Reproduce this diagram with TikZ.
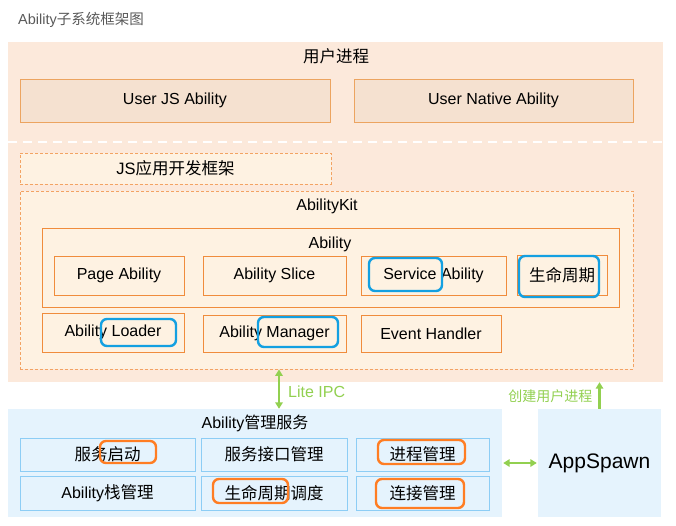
\documentclass[tikz,border=0pt]{standalone}
\usepackage{fontspec}
\setmainfont{Liberation Sans}
\newfontfamily\cjk{Noto Sans CJK SC}
\usetikzlibrary{arrows.meta,positioning}

\definecolor{procFill}{RGB}{252,233,219}
\definecolor{userFill}{RGB}{245,225,208}
\definecolor{userLine}{RGB}{236,164,96}
\definecolor{kitFill}{RGB}{254,242,226}
\definecolor{kitLine}{RGB}{240,140,60}
\definecolor{svcFill}{RGB}{229,243,253}
\definecolor{svcLine}{RGB}{141,205,245}
\definecolor{markBlue}{RGB}{20,160,225}
\definecolor{markOrange}{RGB}{255,125,35}
\definecolor{ipcGreen}{RGB}{146,208,80}
\definecolor{titleGray}{RGB}{90,90,90}

\begin{document}
\begin{tikzpicture}[
        x=1pt, y=-1pt,
        areaBox/.style={
            rectangle,
            inner sep=0pt
        },
        userBox/.style={
            rectangle,
            inner sep=0pt,
            fill=userFill,
            draw=userLine,
            line width=0.9pt,
            font=\fontsize{16}{19}\selectfont
        },
        frameBox/.style={
            rectangle,
            inner sep=0pt,
            fill=kitFill,
            draw=kitLine!80,
            line width=0.8pt,
            dash pattern=on 3pt off 2pt
        },
        kitBox/.style={
            rectangle,
            inner sep=0pt,
            fill=kitFill,
            draw=kitLine,
            line width=0.8pt,
            font=\fontsize{16}{19}\selectfont
        },
        svcBox/.style={
            rectangle,
            inner sep=0pt,
            fill=svcFill,
            draw=svcLine,
            line width=0.9pt,
            font=\fontsize{16.5}{19}\cjk
        },
        groupTitle/.style={
            font=\fontsize{16}{19}\selectfont,
            inner sep=0pt
        },
        blueMark/.style={
            rectangle,
            rounded corners=6pt,
            draw=markBlue,
            line width=2.4pt,
            inner sep=0pt
        },
        orangeMark/.style={
            rectangle,
            rounded corners=6pt,
            draw=markOrange,
            line width=2.4pt,
            inner sep=0pt
        },
        greenArrow/.style={
            {Triangle[length=6.5pt,width=7.5pt]}-{Triangle[length=6.5pt,width=7.5pt]},
            draw=ipcGreen,
            line width=2.4pt
        },
        greenLabel/.style={
            text=ipcGreen,
            inner sep=0pt
        }
    ]

        \useasboundingbox (0,0) rectangle (676,525);

        % Title
        \node[anchor=west, text=titleGray, font=\fontsize{14.5}{17}\selectfont, inner sep=0pt]
            (title) at (18,20) {Ability{\cjk 子系统框架图}};

        % User process
        \node[areaBox, fill=procFill, minimum width=655pt, minimum height=340pt]
            (userProc) at (335.5,212) {};
        \node[groupTitle, font=\fontsize{16.5}{19}\cjk] (procTitle) at (336,56) {用户进程};

        \node[userBox, minimum width=310pt, minimum height=43pt]
            (userJS) at (175,100.5) {User JS Ability};
        \node[userBox, minimum width=279pt, minimum height=43pt]
            (userNative) at (493.5,100.5) {User Native Ability};

        \coordinate (sepL) at (8,142);
        \coordinate (sepR) at (663,142);
        \draw[white, line width=2pt, dash pattern=on 9pt off 6pt] (sepL) -- (sepR);

        % Framework
        \node[frameBox, minimum width=311pt, minimum height=31pt, font=\fontsize{16.5}{19}\selectfont]
            (jsFw) at (175.5,168.5) {JS{\cjk 应用开发框架}};

        \node[frameBox, minimum width=613pt, minimum height=178pt]
            (abilityKit) at (326.5,280) {};
        \node[groupTitle] (kitTitle) at (327,206) {AbilityKit};

        \node[kitBox, minimum width=577pt, minimum height=79pt]
            (ability) at (330.5,267.5) {};
        \node[groupTitle] (abilityTitle) at (330,244) {Ability};

        \node[kitBox, minimum width=130pt, minimum height=39pt]
            (pageAb) at (119,275.5) {Page Ability};
        \node[kitBox, minimum width=143pt, minimum height=39pt]
            (abSlice) at (274.5,275.5) {Ability Slice};
        \node[kitBox, minimum width=145pt, minimum height=39pt]
            (svcAb) at (433.5,275.5) {Service Ability};
        \node[kitBox, minimum width=90pt, minimum height=40pt, font=\fontsize{16.5}{19}\cjk]
            (lifeCyc) at (562,275) {生命周期};

        \node[kitBox, minimum width=142pt, minimum height=39pt]
            (abLoader) at (113,332.5) {Ability Loader};
        \node[kitBox, minimum width=143pt, minimum height=37pt]
            (abManager) at (274.5,333.5) {Ability Manager};
        \node[kitBox, minimum width=140pt, minimum height=37pt]
            (evHandler) at (431,333.5) {Event Handler};

        % Blue marks
        \node[blueMark, minimum width=73pt, minimum height=33pt] (hlService) at (405.5,274.5) {};
        \node[blueMark, minimum width=80pt, minimum height=41pt] (hlLife) at (559,276.5) {};
        \node[blueMark, minimum width=75pt, minimum height=27pt] (hlLoader) at (138.5,332.5) {};
        \node[blueMark, minimum width=80pt, minimum height=30pt] (hlManager) at (298,332) {};

        % Management service
        \node[areaBox, fill=svcFill, minimum width=494pt, minimum height=108pt]
            (mgmt) at (255,463) {};
        \node[groupTitle] (mgmtTitle) at (255,423) {Ability{\cjk 管理服务}};

        \node[svcBox, minimum width=175pt, minimum height=33pt] (svcStart) at (107.5,454.5) {服务启动};
        \node[svcBox, minimum width=146pt, minimum height=33pt] (svcIface) at (274,454.5) {服务接口管理};
        \node[svcBox, minimum width=133pt, minimum height=33pt] (procMgmt) at (422.5,454.5) {进程管理};
        \node[svcBox, minimum width=175pt, minimum height=34pt] (stackMgmt) at (107.5,493) {{\setmainfont{Liberation Sans}\fontsize{16}{19}\selectfont Ability}栈管理};
        \node[svcBox, minimum width=146pt, minimum height=34pt] (lifeSched) at (274,493) {生命周期调度};
        \node[svcBox, minimum width=133pt, minimum height=34pt] (connMgmt) at (422.5,493) {连接管理};

        % Orange marks
        \node[orangeMark, minimum width=56pt, minimum height=22pt] (hlStart) at (128,452) {};
        \node[orangeMark, minimum width=75pt, minimum height=24pt] (hlLifeSched) at (250.5,491) {};
        \node[orangeMark, minimum width=87pt, minimum height=24pt] (hlProc) at (421.5,452) {};
        \node[orangeMark, minimum width=88pt, minimum height=29pt] (hlConn) at (420,493.5) {};

        % AppSpawn
        \node[areaBox, fill=svcFill, minimum width=123pt, minimum height=108pt, font=\fontsize{21}{24}\selectfont]
            (appSpawn) at (599.5,463) {AppSpawn};

        % Connectors
        \coordinate (ipcX) at (279,0);
        \draw[greenArrow] (ipcX |- abilityKit.south) -- (ipcX |- mgmt.north)
            node[greenLabel, midway, right=8pt, yshift=-3pt, font=\fontsize{16}{19}\selectfont] {Lite IPC};

        \draw[greenArrow, shorten <=1pt, shorten >=1pt] (mgmt.east) -- (appSpawn.west);

        \draw[-{Triangle[length=6.5pt,width=7.5pt]}, draw=ipcGreen, line width=2.4pt]
            (appSpawn.north) -- (appSpawn.north |- userProc.south)
            node[greenLabel, midway, left=6pt, yshift=-1pt, font=\fontsize{14}{17}\cjk] {创建用户进程};

    \end{tikzpicture}
\end{document}
